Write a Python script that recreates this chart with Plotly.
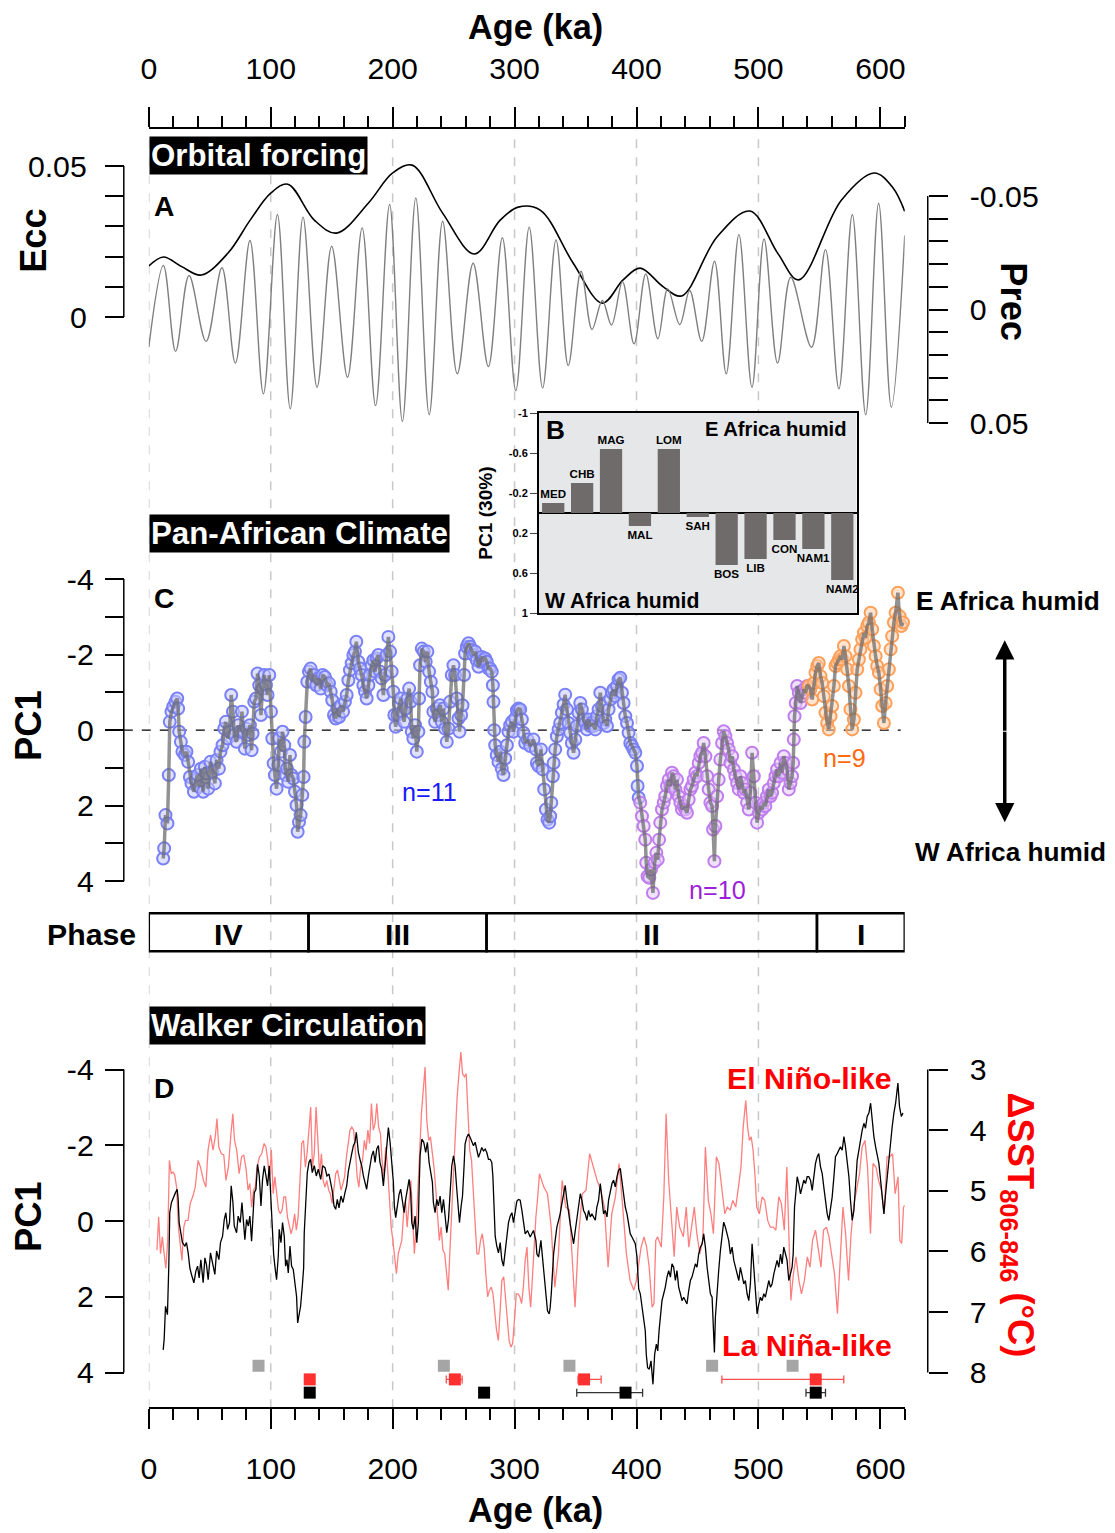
import plotly.graph_objects as go

# ---------------- DATA ----------------
ecc_age = [0, 12, 27, 43, 65, 83, 100, 114, 136, 154, 180, 200, 216, 241, 267, 288, 303, 321, 348,
           372, 389, 403, 422, 437, 466, 493, 516, 533, 568, 595, 610, 620]
ecc_val = [0.0169, 0.0199, 0.0167, 0.0139, 0.0212, 0.0320, 0.0410, 0.0440, 0.0320, 0.0278, 0.0377,
           0.0477, 0.0503, 0.0344, 0.0209, 0.0320, 0.0364, 0.0354, 0.0179, 0.0046, 0.0123, 0.0162,
           0.0100, 0.0070, 0.0265, 0.0351, 0.0210, 0.0123, 0.0387, 0.0477, 0.0430, 0.0350]

prec_age = [0, 12, 22, 33, 47, 60, 71, 83, 94, 105.5, 116, 126.5, 138, 150, 163, 175, 186, 197.5,
            208, 219, 230, 241, 253, 266, 278.5, 290, 301, 312, 323, 334, 344, 354.5, 363.5, 372,
            379.5, 388.5, 398, 407.6, 417.5, 425.6, 435.5, 443.6, 453.5, 464, 473.6, 484, 494.7,
            504.6, 515.7, 526.5, 543.5, 555, 566, 577, 588, 598.6, 609, 620]
prec_val = [0.0166, -0.0194, 0.0184, -0.0150, 0.0140, -0.0184, 0.0236, -0.0304, 0.0371, -0.0419,
            0.0437, -0.0407, 0.0342, -0.0279, 0.0298, -0.0360, 0.0423, -0.0463, 0.0492, -0.0492,
            0.0463, -0.0389, 0.0283, -0.0204, 0.0251, -0.0316, 0.0357, -0.0363, 0.0345, -0.0307,
            0.0247, -0.0169, 0.0088, -0.0040, 0.0068, -0.0123, 0.0151, -0.0157, 0.0129, -0.0091,
            0.0066, -0.0084, 0.0140, -0.0213, 0.0283, -0.0330, 0.0342, -0.0311, 0.0236, -0.0142,
            0.0166, -0.0264, 0.0349, -0.0419, 0.0463, -0.0468, 0.0430, -0.0326]

bar_names = ['MED', 'CHB', 'MAG', 'MAL', 'LOM', 'SAH', 'BOS', 'LIB', 'CON', 'NAM1', 'NAM2']
bar_vals = [-0.10, -0.30, -0.64, 0.13, -0.64, 0.04, 0.52, 0.46, 0.27, 0.36, 0.67]

pc1_age = [11.8, 12.6, 13.7, 15.3, 16.4, 17.2, 18.6, 20.0, 21.9, 23.3, 24.1, 24.9, 26.3, 27.6, 29.6,
           30.9, 32.3, 33.7, 35.0, 37.0, 38.6, 40.0, 41.3, 42.7, 44.6, 46.0, 47.3, 48.7, 50.6, 52.3,
           54.2, 55.6, 57.5, 58.8, 60.5, 61.9, 63.2, 64.6, 66.2, 67.6, 69.0, 70.1, 72.0, 73.3, 75.0,
           76.4, 77.7, 78.8, 80.2, 81.6, 82.9, 84.3, 85.1, 86.5, 87.9, 89.2, 90.6, 92.0, 93.3, 94.7,
           96.1, 97.4, 98.8, 100.2, 101.3, 102.4, 103.4, 104.8, 106.2, 107.0, 108.4, 109.7, 111.1,
           112.2, 113.3, 114.4, 115.8, 117.1, 118.5, 119.9, 121.2, 122.1, 123.2, 124.5, 125.9, 127.0,
           127.5, 128.6, 130.0, 131.4, 132.7, 134.1, 135.7, 137.4, 139.0, 141.0, 142.6, 144.5, 146.1,
           147.8, 149.2, 150.5, 151.9, 153.3, 154.6, 156.0, 157.6, 159.3, 160.9, 162.3, 163.7, 165.0,
           166.4, 167.8, 169.1, 170.2, 171.9, 173.2, 174.6, 176.0, 177.3, 178.7, 180.1, 181.4, 182.8,
           184.2, 185.6, 186.9, 188.3, 189.6, 191.0, 192.4, 193.8, 195.1, 196.5, 197.9, 199.2, 200.6,
           201.4, 202.5, 203.9, 205.3, 206.6, 208.0, 209.4, 210.7, 212.1, 213.5, 214.8, 215.7, 217.0,
           218.4, 219.8, 221.1, 221.7, 222.5, 223.9, 225.5, 227.1, 228.5, 229.9, 231.3, 232.6, 233.4,
           234.8, 236.2, 237.5, 238.9, 240.3, 241.7, 243.0, 244.4, 245.8, 247.1, 248.5, 249.9, 251.2,
           252.6, 254.0, 254.8, 256.2, 257.3, 258.6, 259.4, 260.8, 262.2, 263.5, 264.9, 266.3, 267.7,
           269.0, 270.4, 271.8, 273.1, 274.5, 275.9, 277.2, 278.6, 280.0, 281.3, 282.2, 282.7, 283.3,
           284.1, 285.4, 286.8, 288.2, 289.5, 290.9, 292.3, 293.7, 295.0, 296.4, 297.8, 299.1, 300.5,
           301.9, 303.2,
           304.6, 306.0, 307.3, 308.7, 310.6, 312.8, 315.5, 317.5, 318.3, 319.7, 321.6, 323.0, 324.3,
           325.7, 327.0, 328.4, 329.2, 330.1, 331.4, 332.0, 333.3, 334.7, 336.1, 337.4, 338.8, 340.2,
           341.5, 342.9, 344.3, 345.6, 347.0, 348.4, 349.8, 351.1, 352.5, 353.9, 355.2, 356.6, 358.0,
           359.3, 360.7, 362.1, 363.4, 364.8, 366.2, 367.5, 368.9, 370.3, 371.7, 373.0, 374.4, 375.8,
           377.1, 378.5, 379.9, 381.2, 382.6, 384.0, 385.3, 386.7, 388.1, 389.4, 390.8, 392.2, 393.5,
           394.9, 396.3, 397.6, 399.0, 400.4, 400.9, 401.8, 403.1, 404.5, 405.9, 407.2, 408.0, 409.1,
           410.5, 411.9, 413.5, 414.9, 416.3, 417.4, 418.5, 419.5, 420.9, 422.3, 423.6, 425.0, 426.4,
           427.8, 429.1, 430.5, 431.9, 433.2, 434.6, 436.0, 437.3, 438.7, 440.1, 441.4, 442.8, 444.2,
           445.5, 446.9, 448.3, 449.6, 451.0, 452.4, 453.8, 455.1, 456.5, 457.9, 459.2, 460.6, 462.0,
           462.8, 463.9, 464.7, 466.1, 467.4, 468.8, 470.2, 471.5, 472.9, 474.3, 475.6, 477.0, 478.4,
           479.8, 481.1, 482.5, 483.9, 485.2, 486.6, 488.0, 489.3, 490.7, 492.1, 493.4, 494.8, 496.2,
           497.5, 498.9, 500.3, 501.6, 503.0, 504.4, 505.7, 507.1, 508.5, 509.9, 511.2, 512.6, 514.0,
           515.3, 516.7, 518.1, 519.4, 520.8, 522.2, 523.5, 524.9, 526.3, 527.6, 528.5, 529.0, 529.6,
           530.6, 531.8, 533.1, 534.5, 535.9, 537.2, 538.6, 540.0, 541.3, 542.7, 544.1, 545.4, 546.8,
           548.2, 549.5, 550.9, 552.3, 553.6, 555.0, 556.4, 557.7, 559.1, 560.5, 561.9, 563.2, 564.6,
           566.0, 567.3, 568.7, 570.1, 571.4, 572.8, 574.2, 575.5, 576.9, 578.3, 579.6, 581.0, 582.4,
           583.7, 585.1, 586.5, 587.8, 589.2, 590.6, 592.0, 593.3, 594.7, 596.1, 597.4, 598.8, 600.2,
           601.5, 602.9, 604.3, 605.6, 607.0, 608.4, 609.7, 611.1, 612.5, 614.4, 615.7, 617.2, 618.6]
pc1_val = [3.40, 3.13, 2.25, 2.47, 1.19, -0.22, -0.49, -0.62, -0.75, -0.84, -0.57, 0.04, 0.31, 0.57,
           0.66, 0.57, 0.84, 1.24, 1.41, 1.63, 1.32, 1.19, 1.50, 1.02, 1.63, 0.97, 1.15, 1.55, 0.84,
           1.10, 1.41, 0.79, 1.02, 0.57, 0.40, -0.04, -0.22, 0.22, 0.04, -0.93, -0.49, 0.13, 0.31,
           -0.13, 0.04, -0.49, 0.04, 0.49, -0.04, 0.13, -0.13, 0.53, 0.09, -0.75, -0.84, -1.50, -1.19,
           -0.40, -1.10, -1.46, -1.19, -0.93, -1.46, -0.49, 0.22, 0.88, 1.19, 1.55, 0.93, 0.22, 0.57,
           0.04, 0.40, 1.19, 1.02, 1.37, 0.66, 1.19, 1.28, 1.63, 1.99, 2.69, 2.43, 2.25, 1.72, 1.24,
           0.31, -0.35, -1.28, -1.55, -1.63, -1.28, -1.46, -1.19, -1.37, -1.10, -1.46, -1.41, -1.19,
           -1.24, -1.02, -0.79, -0.40, -0.31, -0.57, -0.35, -0.66, -0.49, -0.75, -0.93, -1.32, -1.59,
           -1.77, -1.99, -2.08, -2.34, -1.81, -1.63, -1.46, -1.19, -1.02, -0.84, -1.19, -1.46, -1.72,
           -1.85, -1.55, -1.90, -1.99, -1.55, -1.37, -0.93, -1.46, -1.99, -2.47, -2.08, -1.55, -1.02,
           -0.40, -0.09, -0.40, -0.71, -0.84, -0.49, -0.22, -0.57, -0.84, -1.10, -0.75, 0.04, 0.22,
           -0.13, 0.57, 0.04, -0.84, -1.72, -2.16, -2.08, -1.81, -2.08, -1.55, -1.28, -1.02, -0.49,
           -0.22, -0.57, -0.40, -0.66, -0.22, -0.57, -0.04, 0.31, -0.04, -0.75, -1.46, -1.72, -1.46,
           -0.84, -0.31, 0.04, -0.40, -0.66, -1.46, -2.03, -2.21, -2.30, -2.21, -2.12, -1.99, -2.08,
           -1.85, -1.68, -1.81, -1.94, -1.85, -1.90, -1.81, -1.63, -1.63, -1.55, -1.19, -0.75, 0.00,
           0.40, 0.66, 0.84, 0.57, 1.02, 1.19, 0.75, 0.40, 0.04, -0.13, -0.22, 0.04, -0.31,
           -0.53, -0.57,
           -0.55, -0.28, 0.07, 0.34, 0.25, 0.42, 0.25, 0.51, 0.87, 0.95, 0.51, 1.04, 1.57,
           2.10, 2.37, 2.45, 2.28, 1.92, 1.22, 0.87, 0.51, 0.16, -0.02, -0.19, -0.46, -0.68,
           -0.94, -0.55, -0.19, 0.07, 0.34, 0.60, 0.25, -0.11, -0.46, -0.72, -0.55, -0.28, -0.19,
           -0.02, -0.28, -0.11, -0.19, -0.11, -0.02, -0.37, -0.55, -0.99, -0.64, -0.19, -0.28, -0.11,
           -0.55, -0.81, -0.99, -1.08, -0.90, -1.17, -1.34, -1.39, -0.99, -0.72, -0.37, -0.19, 0.07,
           0.34, 0.42, 0.51, 0.60, 0.95, 1.48, 1.79, 1.92, 2.28, 2.54, 2.90, 3.51, 3.87,
           3.91, 3.69, 4.31, 3.51, 3.25, 3.43, 2.90, 2.45, 2.10, 1.92, 1.75, 1.48, 1.31,
           1.48, 1.13, 1.22, 1.57, 1.31, 1.75, 1.92, 2.10, 2.01, 2.10, 2.19, 1.84, 1.57,
           1.48, 1.31, 1.13, 1.22, 0.87, 0.69, 0.60, 0.34, 0.69, 1.22, 1.57, 1.92, 2.01,
           2.63, 3.47, 2.54, 1.75, 1.31, 0.78, 0.34, 0.03, 0.16, 0.34, 0.51, 0.87, 0.69,
           1.04, 1.22, 1.40, 1.57, 1.22, 1.40, 1.66, 1.57, 1.92, 2.10, 1.66, 0.60, 1.22,
           1.92, 2.45, 2.19, 2.01, 2.10, 1.92, 2.01, 1.75, 1.57, 1.75, 1.66, 1.40, 1.22,
           1.04, 1.22, 0.87, 1.13, 0.69, 0.87, 1.04, 1.57, 1.40, 1.22, 0.87, 0.25, -0.37,
           -0.72, -1.17, -0.99, -0.72, -0.90, -1.08, -0.99, -1.17, -1.17, -1.08, -0.81, -1.25, -1.52,
           -1.70, -1.78, -1.43, -1.25, -0.90, -0.46, -0.19, -0.02, -0.37, -0.64, -1.17, -1.70, -1.78,
           -1.87, -1.96, -1.87, -2.23, -1.96, -1.61, -1.17, -0.55, -0.02, -0.28, -0.99, -1.61, -1.87,
           -2.14, -2.40, -2.58, -2.45, -2.76, -2.85, -3.11, -2.67, -2.23, -1.96, -1.70, -1.52, -1.08,
           -0.64, -0.19, -0.72, -1.17, -1.61, -2.14, -2.49, -2.85, -3.11, -3.64, -3.02, -2.76, -2.85]

sst_age = [6.7, 8.1, 9.6, 11.1, 12.6, 14.0, 15.5, 16.9, 18.4, 19.9, 21.3, 22.8, 24.3, 25.8, 27.2,
           28.7, 30.1, 32.2, 34.0, 36.0, 38.1, 40.4, 42.4, 44.8, 46.8, 48.6, 50.7, 52.7, 54.5, 55.9,
           57.4, 59.5, 61.5, 63.3, 65.3, 67.4, 68.9, 70.3, 72.1, 74.1, 76.1, 77.9, 79.9, 81.4, 82.9,
           84.4, 85.9, 87.3, 88.8, 90.8, 92.6, 94.6, 96.1, 97.6, 99.0, 100.5, 102.0, 103.4, 104.9,
           106.4, 107.9, 109.3, 110.8, 112.2, 113.7, 115.2, 116.7, 118.1, 119.6, 121.0, 122.5, 124.0,
           125.4, 126.9, 128.4, 129.8, 131.6, 132.8, 134.2, 135.7, 137.2, 138.7, 140.1, 141.6, 143.0,
           144.5, 146.0, 147.5, 148.9, 150.4, 151.8, 153.3, 154.8, 156.2, 157.7, 159.2, 160.6, 162.1,
           163.5, 165.0, 166.5, 168.0, 169.4, 170.9, 172.3, 173.8, 175.3, 176.8, 178.2, 179.7, 181.1,
           182.6, 184.1, 185.6, 187.0, 188.5, 190.0, 191.3, 192.9, 194.3, 195.8, 197.3, 198.8, 200.2,
           201.6, 203.1, 204.6, 206.0, 207.5, 209.0, 210.5, 211.9, 213.4, 214.9, 216.3, 217.8, 219.3,
           220.8, 222.1, 223.6, 225.1, 226.6, 228.0, 229.6, 231.0, 232.4, 233.9, 235.4, 236.9, 238.3,
           239.8, 241.2, 242.7, 244.2, 245.6, 247.1, 248.6, 250.1, 251.5, 252.9, 254.4, 255.9, 257.4,
           258.9, 260.3, 261.8, 263.2, 264.7, 266.2, 267.7, 269.1, 270.6, 272.1, 273.5, 275.0, 276.4,
           277.9, 279.4, 280.9, 282.3, 283.7, 285.2, 286.7, 288.1, 289.6, 291.1, 292.6, 294.0, 295.5,
           297.0, 298.4, 299.9, 301.4, 302.9, 304.3, 305.8, 307.2, 308.7, 310.2, 311.7, 313.2, 314.5,
           316.0, 317.5, 319.0, 320.4,
           324, 327, 330, 333, 336, 339, 342, 345, 349.6, 352.6, 355.6, 358.6, 361.6, 364.6, 367.7,
           370.7, 373.7, 376.7, 379.7, 382.7, 385.7, 388.7, 391.7, 394.7, 397.8, 399.9, 402.3, 403.8,
           406.2, 408.3, 410.4, 412.8, 414.3, 415.8, 417.3, 420.3, 422.4, 424.3, 426.4, 428.5, 430.9,
           433.0, 435.4, 438.4, 440.8, 442.9, 445.0, 447.4, 449.5, 451.9, 454.4, 456.5, 458.9, 461.0,
           463.1, 465.5, 467.6, 470.0, 472.4, 474.5, 476.9, 479.0, 481.4, 483.6, 485.7, 487.5, 489.6,
           491.1, 492.6, 494.1, 495.6, 497.1, 498.6, 500.7, 503.1, 505.2, 507.6, 509.7, 512.1, 514.3,
           516.7, 518.8, 521.2, 523.3, 524.8, 526.6, 528.7, 530.8, 533.2, 535.3, 537.7, 540.1, 542.3,
           544.4, 546.8, 548.9, 551.3, 553.4, 555.8, 557.9, 560.3, 562.4, 564.8, 566.9, 569.3, 571.5,
           573.9, 576.0, 578.4, 580.5, 582.9, 585.0, 587.4, 589.5, 591.9, 594.0, 596.4, 598.5, 600.9,
           603.1, 605.5, 607.6, 610.0, 612.1, 614.5, 616.0, 617.5, 619.0, 620.0]
sst_val = [5.98, 5.43, 6.04, 5.76, 6.04, 6.28, 5.82, 4.50, 4.72, 4.69, 4.74, 4.94, 5.60, 5.93, 6.15,
           5.60, 5.49, 5.49, 5.21, 5.10, 4.94, 4.50, 4.61, 4.83, 4.94, 4.33, 4.08, 4.33, 4.11, 3.81,
           4.28, 4.39, 4.41, 4.83, 4.61, 4.06, 3.73, 4.17, 4.33, 4.72, 4.44, 4.41, 4.66, 4.99, 4.88,
           5.27, 4.99, 4.94, 4.61, 4.44, 4.39, 4.22, 4.28, 4.50, 4.83, 4.33, 5.05, 4.77, 5.05,
           5.32, 5.38, 5.32, 5.10, 5.10, 5.43, 5.60, 5.71, 5.60, 5.38, 5.65, 5.43, 4.83,
           4.22, 4.17, 4.61, 4.39, 3.89, 3.62, 4.61, 4.39, 3.62, 4.28, 4.72, 4.39, 4.83,
           4.94, 4.83, 4.99, 5.05, 5.21, 4.94, 4.72, 4.66, 4.83, 4.99, 4.88, 4.77, 4.44,
           4.17, 4.00, 3.95, 4.00, 4.33, 4.77, 4.94, 4.61, 4.50, 4.17, 4.33, 4.00, 4.22,
           3.56, 4.00, 3.89, 3.56, 3.95, 4.06, 4.50, 4.77, 4.28, 4.61, 5.10, 5.60, 5.82,
           6.04, 6.37, 6.04, 5.93, 5.82, 5.38, 5.16, 5.60, 5.16, 4.83, 5.38, 6.04, 5.60,
           4.94, 4.17, 3.73, 3.34, 2.96, 3.84, 4.17, 4.11, 4.33, 4.61, 4.99, 5.38, 5.82,
           5.60, 5.98, 6.04, 6.31, 6.64, 5.93, 5.27, 4.44, 3.84, 3.45, 3.07, 2.71, 3.07,
           3.12, 3.07, 3.73, 4.33, 4.50, 4.99, 5.65, 6.04, 6.04, 5.82, 5.71, 5.93, 6.37,
           6.75, 6.64, 6.59, 6.70, 7.03, 7.30, 7.47, 6.92, 6.48, 6.42, 6.81, 7.14, 7.47,
           7.58, 7.52, 7.14, 6.70, 6.70, 6.75, 6.86, 6.59, 6.15, 5.93, 6.59, 6.92, 6.48,
           5.82, 5.43, 5.10, 4.72,
           4.94, 5.05, 5.60, 6.59, 6.04, 4.83, 5.27, 5.32, 6.92, 5.71, 5.05, 4.99, 4.39, 4.61, 4.83,
           4.99, 5.27, 6.26, 5.38, 5.10, 4.55, 5.27, 6.04, 6.48, 6.64, 6.48, 6.09, 5.93,
           5.76, 5.93, 6.26, 6.92, 6.86, 5.82, 5.76, 5.93, 5.10, 3.73, 4.83, 5.49, 6.09,
           5.27, 5.60, 5.76, 5.27, 5.93, 5.60, 5.27, 5.71, 6.04, 5.82, 4.28, 5.16, 5.38,
           5.71, 4.44, 4.55, 4.94, 5.38, 5.27, 5.32, 5.16, 5.27, 4.94, 4.61, 3.95, 3.51,
           3.95, 4.17, 4.11, 4.33, 4.72, 5.27, 5.38, 5.10, 5.16, 5.49, 5.60, 5.60, 5.65,
           5.10, 5.21, 5.65, 4.61, 5.49, 6.81, 6.37, 6.09, 6.48, 6.70, 6.48, 6.09, 6.26,
           5.82, 5.65, 5.93, 6.26, 5.65, 5.60, 5.76, 6.09, 6.37, 7.03, 6.09, 5.27, 5.71,
           6.48, 5.71, 5.21, 4.99, 4.72, 4.28, 4.17, 4.61, 5.71, 4.55, 4.61, 4.83, 4.99,
           5.38, 4.44, 4.44, 4.39, 5.05, 4.77, 5.82, 5.87, 5.27, 5.24]

# Group boundaries (ka) for the three PC1 colour groups (n=11, n=10, n=9)
group_breaks = [402, 541]
# Phases
phase_bounds = [0, 131, 277, 548, 620]
phase_names = ['IV', 'III', 'II', 'I']
grid_ages = [0, 100, 200, 300, 400, 500]

# Age-model tie points (bottom of panel D)
gray_age = [90, 242, 345, 462, 528]
red_age = [132, 251, 357, 547]
red_err_minus = [2, 7, 5, 77]
red_err_plus = [2, 6, 14, 23]
black_age = [132, 275, 391, 547]
black_err_minus = [0, 0, 40, 8]
black_err_plus = [0, 0, 14, 8]

# ---------------- LAYOUT HELPERS ----------------
# Compensation for the viewer's page offset/scale (measured): shown = S * figure_px + C
S = 0.992
CX, CY = 8.2, 6.0
W, H = 1116, 1539
FONT = "Liberation Sans, Arial, Helvetica, sans-serif"


def PX(x):
    return ((x - CX) / S) / W


def PY(y):
    return 1 - ((y - CY) / S) / H


def F(sz):
    return sz / S


XD = [PX(149), PX(905)]
GRAY_Y, RED_Y, BLACK_Y = 3.82, 4.18, 4.53

fig = go.Figure()

# Panel A
fig.add_trace(go.Scatter(x=ecc_age, y=ecc_val, mode='lines', xaxis='x', yaxis='y',
                         line=dict(color='black', width=1.6, shape='spline', smoothing=1.0),
                         hoverinfo='skip'))
fig.add_trace(go.Scatter(x=prec_age, y=prec_val, mode='lines', xaxis='x', yaxis='y2',
                         line=dict(color='#7f7f7f', width=1.4, shape='spline', smoothing=1.0),
                         hoverinfo='skip'))

# Panel B
fig.add_trace(go.Bar(x=bar_names, y=bar_vals, xaxis='x3', yaxis='y3',
                     marker=dict(color='#6f6b6b', line=dict(width=0)),
                     text=['<b>%s</b>' % n for n in bar_names], textposition='outside',
                     textangle=0, constraintext='none', cliponaxis=False,
                     textfont=dict(size=F(11.5), color='black', family=FONT)))

# Panel C
groups = [
    dict(lo=-1, hi=group_breaks[0], edge='rgb(122,128,246)', fill='rgba(196,200,255,0.55)'),
    dict(lo=group_breaks[0], hi=group_breaks[1], edge='rgb(192,125,238)', fill='rgba(226,204,250,0.55)'),
    dict(lo=group_breaks[1], hi=1e9, edge='rgb(255,160,90)', fill='rgba(255,206,170,0.55)'),
]
for g in groups:
    xs = [a for a in pc1_age if g['lo'] <= a < g['hi']]
    ys = [v for a, v in zip(pc1_age, pc1_val) if g['lo'] <= a < g['hi']]
    fig.add_trace(go.Scatter(x=xs, y=ys, mode='markers', xaxis='x', yaxis='y4',
                             marker=dict(size=12, color=g['fill'], line=dict(color=g['edge'], width=2)),
                             cliponaxis=False, hoverinfo='skip'))
fig.add_trace(go.Scatter(x=pc1_age, y=pc1_val, mode='lines', xaxis='x', yaxis='y4',
                         line=dict(color='rgba(110,110,110,0.75)', width=3.5), hoverinfo='skip'))

# Panel D
fig.add_trace(go.Scatter(x=sst_age, y=sst_val, mode='lines', xaxis='x2', yaxis='y5',
                         line=dict(color='#ff7f7f', width=1.3), hoverinfo='skip'))
fig.add_trace(go.Scatter(x=pc1_age, y=pc1_val, mode='lines', xaxis='x2', yaxis='y6',
                         line=dict(color='black', width=1.3), hoverinfo='skip'))
fig.add_trace(go.Scatter(x=gray_age, y=[GRAY_Y] * len(gray_age), mode='markers', xaxis='x2', yaxis='y6',
                         marker=dict(symbol='square', size=12, color='#a5a5a5'), cliponaxis=False,
                         hoverinfo='skip'))
fig.add_trace(go.Scatter(x=red_age, y=[RED_Y] * len(red_age), mode='markers', xaxis='x2', yaxis='y6',
                         marker=dict(symbol='square', size=12, color='#ff3030'), cliponaxis=False,
                         error_x=dict(type='data', symmetric=False, array=red_err_plus,
                                      arrayminus=red_err_minus, color='#ff5050', thickness=1.3, width=4),
                         hoverinfo='skip'))
fig.add_trace(go.Scatter(x=black_age, y=[BLACK_Y] * len(black_age), mode='markers', xaxis='x2', yaxis='y6',
                         marker=dict(symbol='square', size=12, color='black'), cliponaxis=False,
                         error_x=dict(type='data', symmetric=False, array=black_err_plus,
                                      arrayminus=black_err_minus, color='#333333', thickness=1.3, width=4),
                         hoverinfo='skip'))

tickfont = dict(size=F(30), color='black', family=FONT)
xcommon = dict(domain=XD, range=[0, 620], anchor='free', showline=True, linecolor='black', linewidth=1.5,
               ticks='outside', ticklen=20, tickwidth=1.5, tickcolor='black', tickmode='linear', tick0=0,
               dtick=100, minor=dict(ticks='outside', ticklen=11, tickwidth=1.5, tickcolor='black',
                                     tick0=0, dtick=20),
               tickfont=tickfont, showgrid=False, zeroline=False)


def yrange(top_px, bot_px, v_at, px_at, px_per_unit, reverse=False):
    # value at reference-pixel y given a linear calibration (pixels increase downward)
    def val(p):
        d = (p - px_at) / px_per_unit
        return v_at + d if reverse else v_at - d
    return [val(bot_px), val(top_px)]


ycommon = dict(anchor='free', showline=False, ticks='outside', ticklen=19, tickwidth=1.5,
               tickcolor='black', tickfont=tickfont, showgrid=False, zeroline=False)

ecc_ticks = [0, 0.01, 0.02, 0.03, 0.04, 0.05]
prec_ticks = [-0.05, -0.04, -0.03, -0.02, -0.01, 0, 0.01, 0.02, 0.03, 0.04, 0.05]
pc_ticks = [-4, -3, -2, -1, 0, 1, 2, 3, 4]
pcd_ticks = [-4, -2, 0, 2, 4]
sst_ticks = [3, 4, 5, 6, 7, 8]

layout = dict(
    width=W, height=H, autosize=False, margin=dict(l=0, r=0, t=0, b=0), paper_bgcolor='white',
    plot_bgcolor='rgba(0,0,0,0)', showlegend=False, font=dict(family=FONT, color='black'),
    bargap=0.23,
    xaxis=dict(xcommon, position=PY(128), side='top', ticklabelstandoff=16),
    xaxis2=dict(xcommon, position=PY(1408), side='bottom', ticklabelstandoff=14),
    xaxis3=dict(domain=[PX(539), PX(857)], anchor='y3', range=[-0.5, 10.5], showline=True, mirror=True,
                linecolor='black', linewidth=1.5, showticklabels=False, ticks='', showgrid=False,
                zeroline=False),
    yaxis=dict(ycommon, domain=[PY(440), PY(130)],
               range=yrange(130, 440, 0, 317, 3020), position=PX(124), side='left',
               tickvals=ecc_ticks, ticktext=['0', '', '', '', '', '0.05'], ticklabelstandoff=12),
    yaxis2=dict(ycommon, overlaying='y', side='right', position=PX(928),
                range=yrange(130, 440, 0, 309.5, 2270, reverse=True),
                tickvals=prec_ticks, ticktext=['-0.05', '', '', '', '', '0', '', '', '', '', '0.05'],
                ticklabelstandoff=16),
    yaxis3=dict(domain=[PY(613), PY(413)], anchor='x3', range=[1, -1], showline=True, mirror=True,
                linecolor='black', linewidth=1.5, ticks='outside', ticklen=7, tickwidth=1.2,
                tickvals=[-1, -0.6, -0.2, 0.2, 0.6, 1],
                ticktext=['<b>-1</b>', '<b>-0.6</b>', '<b>-0.2</b>', '<b>0.2</b>', '<b>0.6</b>', '<b>1</b>'],
                tickfont=dict(size=F(11), family=FONT, color='black'), showgrid=False,
                zeroline=True, zerolinecolor='black', zerolinewidth=1.5),
    yaxis4=dict(ycommon, domain=[PY(905), PY(560)], position=PX(124), side='left',
                range=yrange(560, 905, 0, 730, 37.75, reverse=True), tickvals=pc_ticks,
                ticktext=['-4', '', '-2', '', '0', '', '2', '', '4'], ticklabelstandoff=5),
    yaxis5=dict(ycommon, domain=[PY(1408), PY(1040)], position=PX(928), side='right',
                range=yrange(1040, 1408, 3, 1069.3, 60.6, reverse=True), tickvals=sst_ticks,
                ticktext=[str(t) for t in sst_ticks], ticklabelstandoff=16),
    yaxis6=dict(ycommon, overlaying='y5', position=PX(124), side='left',
                range=yrange(1040, 1408, 0, 1220.8, 37.875, reverse=True), tickvals=pcd_ticks,
                ticktext=[str(t) for t in pcd_ticks], ticklabelstandoff=5),
)
fig.update_layout(**layout)

shapes = []
# dashed vertical grid lines
for a in grid_ages:
    shapes.append(dict(type='line', xref='x', yref='paper', x0=a, x1=a, y0=PY(1408), y1=PY(130),
                       line=dict(color='#c8c8c8', width=1.5, dash='dash'), layer='below'))
# inset background
shapes.append(dict(type='rect', xref='x3', yref='y3', x0=-0.5, x1=10.5, y0=-1, y1=1,
                   fillcolor='#e6e7e9', line=dict(width=0), layer='below'))
# axis spines restricted to labelled range
spine = dict(color='black', width=1.5)
shapes.append(dict(type='line', xref='paper', yref='y', x0=PX(124), x1=PX(124), y0=0, y1=0.05, line=spine))
shapes.append(dict(type='line', xref='paper', yref='y2', x0=PX(928), x1=PX(928), y0=-0.05, y1=0.05, line=spine))
shapes.append(dict(type='line', xref='paper', yref='y4', x0=PX(124), x1=PX(124), y0=-4, y1=4, line=spine))
shapes.append(dict(type='line', xref='paper', yref='y6', x0=PX(124), x1=PX(124), y0=-4, y1=4, line=spine))
shapes.append(dict(type='line', xref='paper', yref='y5', x0=PX(928), x1=PX(928), y0=3, y1=8, line=spine))
# zero dashed line panel C
shapes.append(dict(type='line', xref='paper', yref='y4', x0=PX(124), x1=PX(901), y0=0, y1=0,
                   line=dict(color='black', width=1.2, dash='dash'), layer='below'))
# phase boxes
for i in range(len(phase_names)):
    shapes.append(dict(type='rect', xref='x', yref='paper', x0=phase_bounds[i], x1=phase_bounds[i + 1],
                       y0=PY(951), y1=PY(913), line=dict(color='black', width=2.5),
                       fillcolor='rgba(0,0,0,0)'))
fig.update_layout(shapes=shapes)

ann = []


def label(text, x, y, size, color='black', xanchor='left', yanchor='middle', bold=True, angle=0, **kw):
    t = '<b>%s</b>' % text if bold else text
    d = dict(text=t, x=PX(x), y=PY(y), xref='paper', yref='paper', xanchor=xanchor, yanchor=yanchor,
             showarrow=False, textangle=angle, font=dict(size=F(size), color=color, family=FONT))
    d.update(kw)
    ann.append(d)


# titles
label('Age (ka)', 536, 27, 34, xanchor='center')
label('Age (ka)', 536, 1510, 34, xanchor='center')
# black header boxes
for txt, y in [('Orbital forcing', 155.5), ('Pan-African Climate', 533), ('Walker Circulation', 1025)]:
    label(txt, 149, y, 31, color='white', bgcolor='black', borderpad=1)
# panel letters
label('A', 152, 206, 28)
label('C', 152, 598, 28)
label('D', 152, 1088, 28)
label('B', 544, 430, 26)
# axis titles
label('Ecc', 33, 240, 36, xanchor='center', angle=-90)
label('Prec', 1014, 302, 36, xanchor='center', angle=90)
label('PC1', 28, 725, 36, xanchor='center', angle=-90)
label('PC1', 28, 1216, 36, xanchor='center', angle=-90)
label('PC1 (30%)', 485, 513, 19, xanchor='center', angle=-90)
ann.append(dict(text='<b>ΔSST<sub>806-846</sub> (°C)</b>', x=PX(1018), y=PY(1225), xref='paper',
                yref='paper', xanchor='center', yanchor='middle', showarrow=False, textangle=90,
                font=dict(size=F(36), color='#ff0000', family=FONT)))
# inset texts
label('E Africa humid', 849, 429, 20, xanchor='right')
label('W Africa humid', 543, 600, 21)
# panel C texts
label('E Africa humid', 914, 601, 26)
label('W Africa humid', 913, 852, 26)
label('n=11', 430, 792, 25, color='#1a1aff', xanchor='center', bold=False)
label('n=10', 718, 890, 25, color='#9d1fd8', xanchor='center', bold=False)
label('n=9', 845, 758, 25, color='#ff6a10', xanchor='center', bold=False)
# double arrow
for y_tip, ay in [(640, 92), (822, -92)]:
    ann.append(dict(text='', x=PX(1005), y=PY(y_tip), xref='paper', yref='paper', ax=0, ay=ay,
                    showarrow=True, arrowhead=2, arrowsize=1.1, arrowwidth=3.5, arrowcolor='black'))
# phase labels
label('Phase', 138, 934, 30, xanchor='right')
for i, nm in enumerate(phase_names):
    ann.append(dict(text='<b>%s</b>' % nm, x=(phase_bounds[i] + phase_bounds[i + 1]) / 2, y=PY(934),
                    xref='x', yref='paper', xanchor='center', yanchor='middle', showarrow=False,
                    font=dict(size=F(30), color='black', family=FONT)))
# panel D texts
label('El Niño-like', 894, 1078, 30, color='#ff0000', xanchor='right')
label('La Niña-like', 894, 1345, 30, color='#ff0000', xanchor='right')

fig.update_layout(annotations=ann)

fig.write_html("out.html", config={'responsive': False, 'displayModeBar': False},
               post_script="document.body.style.margin='0';document.body.style.padding='0';")
